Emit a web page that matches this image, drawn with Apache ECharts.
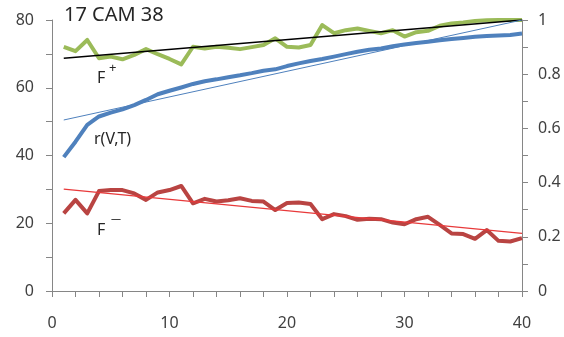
<!DOCTYPE html>
<html>
<head>
<meta charset="utf-8">
<script src="https://cdn.jsdelivr.net/npm/echarts@6/dist/echarts.min.js"></script>
<style>
html,body{margin:0;padding:0;background:#fff;}
#chart{width:564px;height:337px;}
</style>
</head>
<body>
<div id="chart"></div>
<script>
// x positions
const xValues = [1,2,3,4,5,6,7,8,9,10,11,12,13,14,15,16,17,18,19,20,21,22,23,24,25,26,27,28,29,30,31,32,33,34,35,36,37,38,39,40];
// F+ (left axis)
const fPlus = [72.1,70.8,74.1,68.7,69.2,68.4,69.7,71.4,69.9,68.5,66.9,72.1,71.6,72.1,71.8,71.4,72.0,72.6,74.6,72.1,71.9,72.6,78.5,76.1,77.0,77.5,76.8,76.1,77.0,75.1,76.4,76.8,78.3,79.0,79.3,79.7,79.9,80.0,80.0,80.0];
// F- (left axis)
const fMinus = [22.9,26.9,22.9,29.5,29.8,29.8,28.8,26.9,29.1,29.8,31.0,25.9,27.2,26.4,26.8,27.4,26.6,26.4,23.9,26.0,26.1,25.7,21.2,22.7,22.1,21.0,21.3,21.2,20.2,19.7,21.2,21.9,19.5,17.0,16.8,15.4,18.0,14.8,14.6,15.6];
// r(V,T) (right axis)
const rVT = [0.494,0.551,0.613,0.644,0.658,0.670,0.686,0.705,0.726,0.739,0.751,0.764,0.774,0.781,0.789,0.796,0.804,0.813,0.818,0.830,0.840,0.849,0.856,0.865,0.874,0.883,0.890,0.895,0.903,0.910,0.915,0.920,0.925,0.930,0.934,0.938,0.941,0.943,0.945,0.950];
// trend line end points
const trendX = [1, 40];
const fPlusTrend = [68.7, 80.0];
const fMinusTrend = [30.1, 17.0];
const rTrend = [0.631, 1.0];
// tick labels
const leftTicks = [0, 20, 40, 60, 80];
const rightTicks = [0, 0.2, 0.4, 0.6, 0.8, 1];
const xTicks = [0, 10, 20, 30, 40];
const titleText = '17 CAM 38';

const pair = (xs, ys) => xs.map((x, i) => [x, ys[i]]);

const axisCol = '#868686';
const txtCol = '#404040';
const font = 'Noto Sans';

const chart = echarts.init(document.getElementById('chart'), null, {renderer: 'canvas'});
chart.setOption({
  animation: false,
  backgroundColor: '#fff',
  grid: {left: 52, right: 42, top: 20, bottom: 46, containLabel: false},
  xAxis: {
    type: 'value', min: xTicks[0], max: xTicks[xTicks.length-1], interval: 10,
    axisLine: {show: true, lineStyle: {color: axisCol, width: 1}},
    axisTick: {show: true, length: 6, lineStyle: {color: axisCol}},
    minorTick: {show: true, splitNumber: 5, length: 6, lineStyle: {color: axisCol}},
    splitLine: {show: false},
    axisLabel: {color: txtCol, fontFamily: font, fontSize: 16, margin: 24}
  },
  yAxis: [{
    type: 'value', min: leftTicks[0], max: leftTicks[leftTicks.length-1], interval: 20,
    position: 'left',
    axisLine: {show: true, lineStyle: {color: axisCol, width: 1}},
    axisTick: {show: true, length: 6, lineStyle: {color: axisCol}},
    minorTick: {show: true, splitNumber: 2, length: 6, lineStyle: {color: axisCol}},
    splitLine: {show: false},
    axisLabel: {color: txtCol, fontFamily: font, fontSize: 16, margin: 18}
  }, {
    type: 'value', min: rightTicks[0], max: rightTicks[rightTicks.length-1], interval: 0.2,
    position: 'right',
    axisLine: {show: true, lineStyle: {color: axisCol, width: 1}},
    axisTick: {show: true, length: 6, lineStyle: {color: axisCol}},
    minorTick: {show: true, splitNumber: 2, length: 6, lineStyle: {color: axisCol}},
    splitLine: {show: false},
    axisLabel: {color: txtCol, fontFamily: font, fontSize: 16, margin: 16}
  }],
  series: [
    {name: 'F+', type: 'line', yAxisIndex: 0, data: pair(xValues, fPlus), symbol: 'none',
     lineStyle: {color: '#9BBB59', width: 4, join: 'round'}, z: 2},
    {name: 'F-', type: 'line', yAxisIndex: 0, data: pair(xValues, fMinus), symbol: 'none',
     lineStyle: {color: '#B94442', width: 4, join: 'round'}, z: 2},
    {name: 'r(V,T)', type: 'line', yAxisIndex: 1, data: pair(xValues, rVT), symbol: 'none',
     lineStyle: {color: '#4F81BD', width: 4, join: 'round'}, z: 2},
    {name: 'F+ trend', type: 'line', yAxisIndex: 0, data: pair(trendX, fPlusTrend), symbol: 'none',
     lineStyle: {color: '#000', width: 1.5}, z: 3},
    {name: 'F- trend', type: 'line', yAxisIndex: 0, data: pair(trendX, fMinusTrend), symbol: 'none',
     lineStyle: {color: '#E8393A', width: 1.3}, z: 3},
    {name: 'r trend', type: 'line', yAxisIndex: 1, data: pair(trendX, rTrend), symbol: 'none',
     lineStyle: {color: '#4F81BD', width: 1}, z: 3}
  ],
  graphic: [
    {type: 'text', left: 64, top: 5, style: {text: titleText, fill: '#262626', font: '20px "Noto Sans"'}},
    {type: 'text', left: 97, top: 70, style: {text: 'F', fill: '#262626', font: '16px "Noto Sans"'}},
    {type: 'text', left: 109, top: 62, style: {text: '+', fill: '#262626', font: '13px "Noto Sans"'}},
    {type: 'text', left: 94, top: 131, style: {text: 'r(V,T)', fill: '#262626', font: '16px "Noto Sans"'}},
    {type: 'text', left: 97, top: 222, style: {text: 'F', fill: '#262626', font: '16px "Noto Sans"'}},
    {type: 'text', left: 111, top: 214, style: {text: '\u2014', fill: '#262626', font: '10px "Noto Sans"'}}
  ]
});
</script>
</body>
</html>
